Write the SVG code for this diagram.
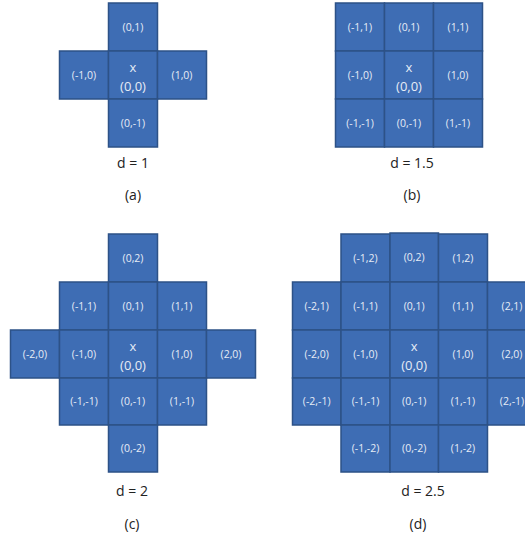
<svg xmlns="http://www.w3.org/2000/svg" width="525" height="542" viewBox="0 0 525 542">
<style>
.c rect{fill:#3E6DB4;stroke:#2D5287;stroke-width:1.5}
.c text{fill:#E6ECF6;font-family:"Open Sans","Liberation Sans",sans-serif;font-size:10.5px;text-anchor:middle}
.c text.o{font-size:13px}
.lbl{fill:#222;font-family:"Open Sans","Liberation Sans",sans-serif;font-size:14px;text-anchor:middle}
</style>
<rect width="525" height="542" fill="#fff"/>
<g id="panel-a" class="c">
<g id="a-0-1"><rect x="108.5" y="3" width="49" height="48"/><text x="133" y="30.5">(0,1)</text></g>
<g id="a-m1-0"><rect x="59.5" y="51" width="49" height="48"/><text x="84" y="78.5">(-1,0)</text></g>
<g id="a-0-0"><rect x="108.5" y="51" width="49" height="48"/><text class="o" x="133" y="71.5">x</text><text class="o" x="133" y="91">(0,0)</text></g>
<g id="a-1-0"><rect x="157.5" y="51" width="49" height="48"/><text x="182" y="78.5">(1,0)</text></g>
<g id="a-0-m1"><rect x="108.5" y="99" width="49" height="48"/><text x="133" y="126.5">(0,-1)</text></g>
</g>
<text class="lbl" x="133" y="168">d = 1</text>
<text class="lbl" x="133" y="200">(a)</text>
<g id="panel-b" class="c">
<g id="b-m1-1"><rect x="335.5" y="3" width="49" height="48"/><text x="360" y="30.5">(-1,1)</text></g>
<g id="b-0-1"><rect x="384.5" y="3" width="49" height="48"/><text x="409" y="30.5">(0,1)</text></g>
<g id="b-1-1"><rect x="433.5" y="3" width="49" height="48"/><text x="458" y="30.5">(1,1)</text></g>
<g id="b-m1-0"><rect x="335.5" y="51" width="49" height="48"/><text x="360" y="78.5">(-1,0)</text></g>
<g id="b-0-0"><rect x="384.5" y="51" width="49" height="48"/><text class="o" x="409" y="71.5">x</text><text class="o" x="409" y="91">(0,0)</text></g>
<g id="b-1-0"><rect x="433.5" y="51" width="49" height="48"/><text x="458" y="78.5">(1,0)</text></g>
<g id="b-m1-m1"><rect x="335.5" y="99" width="49" height="48"/><text x="360" y="126.5">(-1,-1)</text></g>
<g id="b-0-m1"><rect x="384.5" y="99" width="49" height="48"/><text x="409" y="126.5">(0,-1)</text></g>
<g id="b-1-m1"><rect x="433.5" y="99" width="49" height="48"/><text x="458" y="126.5">(1,-1)</text></g>
</g>
<text class="lbl" x="412" y="168">d = 1.5</text>
<text class="lbl" x="412" y="200">(b)</text>
<g id="panel-c" class="c">
<g id="c-0-2"><rect x="108.5" y="234" width="49" height="48"/><text x="133" y="261.5">(0,2)</text></g>
<g id="c-m1-1"><rect x="59.5" y="282" width="49" height="48"/><text x="84" y="309.5">(-1,1)</text></g>
<g id="c-0-1"><rect x="108.5" y="282" width="49" height="48"/><text x="133" y="309.5">(0,1)</text></g>
<g id="c-1-1"><rect x="157.5" y="282" width="49" height="48"/><text x="182" y="309.5">(1,1)</text></g>
<g id="c-m2-0"><rect x="10.5" y="330" width="49" height="48"/><text x="35" y="357.5">(-2,0)</text></g>
<g id="c-m1-0"><rect x="59.5" y="330" width="49" height="48"/><text x="84" y="357.5">(-1,0)</text></g>
<g id="c-0-0"><rect x="108.5" y="330" width="49" height="48"/><text class="o" x="133" y="350.5">x</text><text class="o" x="133" y="370">(0,0)</text></g>
<g id="c-1-0"><rect x="157.5" y="330" width="49" height="48"/><text x="182" y="357.5">(1,0)</text></g>
<g id="c-2-0"><rect x="206.5" y="330" width="49" height="48"/><text x="231" y="357.5">(2,0)</text></g>
<g id="c-m1-m1"><rect x="59.5" y="378" width="49" height="47"/><text x="84" y="405">(-1,-1)</text></g>
<g id="c-0-m1"><rect x="108.5" y="378" width="49" height="47"/><text x="133" y="405">(0,-1)</text></g>
<g id="c-1-m1"><rect x="157.5" y="378" width="49" height="47"/><text x="182" y="405">(1,-1)</text></g>
<g id="c-0-m2"><rect x="108.5" y="425" width="49" height="47"/><text x="133" y="452">(0,-2)</text></g>
</g>
<text class="lbl" x="132" y="496">d = 2</text>
<text class="lbl" x="132" y="529">(c)</text>
<g id="panel-d" class="c">
<g id="d-m1-2"><rect x="341" y="234" width="49" height="48"/><text x="365.5" y="261.5">(-1,2)</text></g>
<g id="d-0-2"><rect x="390" y="233" width="48.5" height="49"/><text x="414.2" y="261">(0,2)</text></g>
<g id="d-1-2"><rect x="438.5" y="234" width="49" height="48"/><text x="463" y="261.5">(1,2)</text></g>
<g id="d-m2-1"><rect x="292.5" y="282" width="48.5" height="48"/><text x="316.7" y="309.5">(-2,1)</text></g>
<g id="d-m1-1"><rect x="341" y="282" width="49" height="48"/><text x="365.5" y="309.5">(-1,1)</text></g>
<g id="d-0-1"><rect x="390" y="282" width="48.5" height="48"/><text x="414.2" y="309.5">(0,1)</text></g>
<g id="d-1-1"><rect x="438.5" y="282" width="49" height="48"/><text x="463" y="309.5">(1,1)</text></g>
<g id="d-2-1"><rect x="487.5" y="282" width="49" height="48"/><text x="512" y="309.5">(2,1)</text></g>
<g id="d-m2-0"><rect x="292.5" y="330" width="48.5" height="48"/><text x="316.7" y="357.5">(-2,0)</text></g>
<g id="d-m1-0"><rect x="341" y="330" width="49" height="48"/><text x="365.5" y="357.5">(-1,0)</text></g>
<g id="d-0-0"><rect x="390" y="330" width="48.5" height="48"/><text class="o" x="414.2" y="350.5">x</text><text class="o" x="414.2" y="370">(0,0)</text></g>
<g id="d-1-0"><rect x="438.5" y="330" width="49" height="48"/><text x="463" y="357.5">(1,0)</text></g>
<g id="d-2-0"><rect x="487.5" y="330" width="49" height="48"/><text x="512" y="357.5">(2,0)</text></g>
<g id="d-m2-m1"><rect x="292.5" y="378" width="48.5" height="47"/><text x="316.7" y="405">(-2,-1)</text></g>
<g id="d-m1-m1"><rect x="341" y="378" width="49" height="47"/><text x="365.5" y="405">(-1,-1)</text></g>
<g id="d-0-m1"><rect x="390" y="378" width="48.5" height="47"/><text x="414.2" y="405">(0,-1)</text></g>
<g id="d-1-m1"><rect x="438.5" y="378" width="49" height="47"/><text x="463" y="405">(1,-1)</text></g>
<g id="d-2-m1"><rect x="487.5" y="378" width="49" height="47"/><text x="512" y="405">(2,-1)</text></g>
<g id="d-m1-m2"><rect x="341" y="425" width="49" height="47"/><text x="365.5" y="452">(-1,-2)</text></g>
<g id="d-0-m2"><rect x="390" y="425" width="48.5" height="47"/><text x="414.2" y="452">(0,-2)</text></g>
<g id="d-1-m2"><rect x="438.5" y="425" width="49" height="47"/><text x="463" y="452">(1,-2)</text></g>
</g>
<text class="lbl" x="423" y="496">d = 2.5</text>
<text class="lbl" x="418" y="529">(d)</text>
<g id="connectors"></g>
</svg>
